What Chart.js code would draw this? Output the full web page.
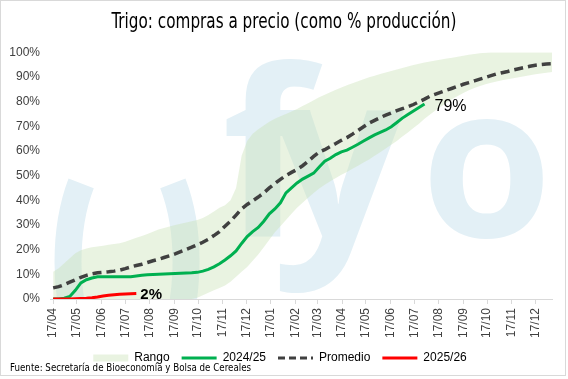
<!DOCTYPE html>
<html><head><meta charset="utf-8">
<script src="https://cdn.jsdelivr.net/npm/chart.js@4.4.1/dist/chart.umd.min.js"></script>
<style>html,body{margin:0;padding:0;background:#fff;overflow:hidden}#wrap{width:568px;height:379px;position:relative}</style>
</head><body><div id="wrap"><canvas id="c" width="568" height="379"></canvas></div>
<script>
const chartTitle = 'Trigo: compras a precio (como % producción)';
const sourceText = 'Fuente: Secretaría de Bioeconomía y Bolsa de Cereales';
const seriesNames = ['Rango', '2024/25', 'Promedio', '2025/26'];
const monthLabels = ['17/04','17/05','17/06','17/07','17/08','17/09','17/10','17/11','17/12','17/01','17/02','17/03','17/04','17/05','17/06','17/07','17/08','17/09','17/10','17/11','17/12'];
const monthDays = [0,30,61,91,122,153,183,214,244,275,306,334,365,395,426,456,487,518,548,579,609];
const daysPerWeek = 7;

// weekly values (% of production), week 0 = 17/04
const rangeLow = [0,0,0,0,0,0,0,0,0,0,0,0,0,0,0,0,0,0,0,0,0,0,0,0,0,0,
  0.5,1.5,2.5,3.5,4.5,5.5,7,9,11,13,15.5,18,21,24,27,29.5,32,34.5,37,39,41,43,44.8,46.3,47.7,49,50.3,51.5,52.8,54,55.3,56.5,58,59.5,61,62.5,64,65.8,67.5,69.3,71,73,74.8,76.5,78,79.5,81,82.3,83.5,84.6,85.5,86.3,87,87.6,88.1,88.6,89,89.4,89.9,90.3,90.7,91.1,91.4,91.7,92];
const rangeHigh = [11,12.5,14.5,16.5,18.5,19.8,20.5,21,21.3,21.6,22,22.3,22.6,23.2,24,24.8,25.5,26.3,27.2,28.2,28.8,29.4,30,30.5,31,31.5,32,32.8,34,35.5,37,38,40,45,58,64,67,68.8,70.3,71.8,73,74,75,76,77,78.2,79.3,80.5,81.7,82.8,83.8,84.8,85.7,86.6,87.4,88.2,89,89.8,90.5,91.2,91.8,92.4,93,93.6,94.2,94.8,95.3,95.8,96.2,96.6,97,97.4,97.8,98.2,98.6,99,99.3,99.6,99.8,100,100,100,100,100,100,100,100,100,100,100,100];
const promedio = [4.5,5,5.8,6.8,7.8,8.8,9.6,10.2,10.6,10.8,11,11.3,11.7,12.3,13,13.6,14.1,14.8,15.5,16.1,16.8,17.5,18.3,19.2,20.1,21,22,23,24.2,25.7,27.3,29.5,31.6,34,36.5,38.3,39.8,41.3,43,45,46.8,48.5,50,51.3,52.5,54,55.8,57.8,59.5,60.5,61.8,63,64.3,65.4,66.8,68.3,69.8,71.3,72.4,73.5,74.5,75.4,76.3,77.1,77.9,78.8,79.9,81,82.2,83,83.8,84.6,85.4,86.2,87,87.7,88.4,89.1,89.8,90.5,91.2,91.7,92.2,92.8,93.3,93.8,94.3,94.7,95,95.2,95.3];
const campaign2425 = [0,0,0.3,1,3.5,6.5,7.8,8.5,9,9,9,9,9,9,9,9.3,9.6,9.8,9.9,10,10.1,10.2,10.3,10.4,10.5,10.6,10.8,11.3,12,13,14.3,15.8,17.5,19.5,22.5,25.3,27.3,29,31.5,34.5,36.5,39,43,45,47,48.6,49.8,51,53.5,55.8,57,58.5,59.6,60.3,61.5,62.7,64,65.3,66.5,67.5,68.5,69.8,71.5,73.3,74.8,76.2,77.6,79];
const campaign2526 = [0,0,0,0,0.1,0.2,0.3,0.5,0.8,1.2,1.5,1.7,1.9,2,2.1,2.2];

const COND = '"DejaVu Sans Condensed", "Liberation Sans", sans-serif';
const SANS = '"Liberation Sans", Arial, sans-serif';
const BAND = 'rgba(200,225,180,0.4)';
const WM = '#e3f0f6';
const pts = arr => arr.map((v, i) => ({x: i * daysPerWeek, y: v}));

function condensedText(ctx, text, x, y, font, sx, align) {
  ctx.save();
  ctx.font = font;
  ctx.textBaseline = 'middle';
  ctx.textAlign = align;
  ctx.translate(x, y);
  ctx.scale(sx, 1);
  ctx.fillText(text, 0, 0);
  ctx.restore();
}

const watermark = {
  id: 'watermark',
  beforeDatasetsDraw(chart) {
    const {ctx, chartArea: a} = chart;
    ctx.save();
    ctx.beginPath(); ctx.rect(a.left, a.top, a.right - a.left, a.bottom - a.top); ctx.clip();
    ctx.strokeStyle = WM; ctx.lineWidth = 27;
    ctx.beginPath();
    ctx.ellipse(127, 262, 59, 125, 0, -39 * Math.PI / 180, 219 * Math.PI / 180);
    ctx.stroke();
    ctx.fillStyle = WM;
    ctx.textBaseline = 'alphabetic';
    ctx.font = 'bold 232px "Open Sans", "DejaVu Sans", sans-serif';
    ctx.fillText('f', 222, 237);
    ctx.fillText('y', 272, 237);
    ctx.font = 'bold 212px "Open Sans", "DejaVu Sans", sans-serif';
    ctx.fillText('o', 421, 237);
    ctx.restore();
  }
};

const extras = {
  id: 'extras',
  afterDatasetsDraw(chart) {
    const {ctx} = chart, xs = chart.scales.x, ys = chart.scales.y;
    ctx.save();
    ctx.fillStyle = '#000'; ctx.textBaseline = 'middle'; ctx.textAlign = 'left';
    const i1 = campaign2425.length - 1;
    ctx.font = '16px ' + SANS;
    ctx.fillText(Math.round(campaign2425[i1]) + '%', xs.getPixelForValue(i1 * daysPerWeek) + 10, ys.getPixelForValue(campaign2425[i1]) + 3);
    const i2 = campaign2526.length - 1;
    ctx.font = 'bold 15px ' + SANS;
    ctx.fillText(Math.round(campaign2526[i2]) + '%', xs.getPixelForValue(i2 * daysPerWeek) + 4, ys.getPixelForValue(campaign2526[i2]) + 1);
    ctx.restore();
  },
  afterDraw(chart) {
    const {ctx} = chart;
    ctx.save();
    ctx.fillStyle = '#000';
    condensedText(ctx, chartTitle, 284, 22, '22px ' + COND, 0.77, 'center');
    condensedText(ctx, sourceText, 10, 368, '11px ' + COND, 0.88, 'left');
    ctx.strokeStyle = '#d9d9d9'; ctx.lineWidth = 1;
    ctx.strokeRect(0.5, 0.5, 565, 375);
    ctx.restore();
  }
};

new Chart(document.getElementById('c'), {
  type: 'line',
  data: {
    datasets: [
      {label: 'low', data: pts(rangeLow), borderWidth: 0, pointRadius: 0, fill: false, order: 10},
      {label: seriesNames[0], data: pts(rangeHigh), borderWidth: 0, pointRadius: 0, fill: 0, backgroundColor: BAND, order: 9},
      {label: seriesNames[1], data: pts(campaign2425), borderColor: '#00b050', borderWidth: 3, pointRadius: 0, fill: false, order: 2},
      {label: seriesNames[2], data: pts(promedio), borderColor: '#404040', borderWidth: 3.5, borderDash: [9, 5], pointRadius: 0, fill: false, order: 3},
      {label: seriesNames[3], data: pts(campaign2526), borderColor: '#ff0000', borderWidth: 3, pointRadius: 0, fill: false, order: 1}
    ]
  },
  options: {
    responsive: false, animation: false, devicePixelRatio: 1,
    layout: {padding: {left: 8, right: 16, top: 0, bottom: 5}},
    scales: {
      x: {
        type: 'linear', min: -4, max: 630,
        afterBuildTicks: s => { s.ticks = monthDays.map(v => ({value: v})); },
        afterFit: s => { s.height = 41; },
        ticks: {autoSkip: false, minRotation: 90, maxRotation: 90, padding: 4, color: '#404040', font: {family: SANS, size: 12},
          callback: (v, i) => monthLabels[i]},
        grid: {display: true, drawOnChartArea: false, drawTicks: true, tickLength: 5, color: '#d9d9d9'},
        border: {color: '#d9d9d9'}
      },
      y: {
        min: 0, max: 100,
        afterFit: s => { s.width = 42; },
        ticks: {stepSize: 10, padding: 10, color: '#404040', font: {family: SANS, size: 12}, callback: v => v + '%'},
        grid: {display: false, drawTicks: false},
        border: {display: false}
      }
    },
    plugins: {
      title: {display: true, text: chartTitle, color: 'rgba(0,0,0,0)', font: {family: COND, size: 21, weight: 'normal'}, padding: {top: 10, bottom: 17}},
      legend: {
        position: 'bottom',
        labels: {
          usePointStyle: true, pointStyleWidth: 35, boxHeight: 7, padding: 12, color: '#404040',
          font: {family: SANS, size: 12},
          generateLabels: () => [
            {text: seriesNames[0], fillStyle: BAND, strokeStyle: BAND, lineWidth: 0, pointStyle: 'rect', hidden: false},
            {text: seriesNames[1], fillStyle: '#00b050', strokeStyle: '#00b050', lineWidth: 3, pointStyle: 'line', hidden: false},
            {text: seriesNames[2], fillStyle: '#404040', strokeStyle: '#404040', lineWidth: 3, lineDash: [7, 4], pointStyle: 'line', hidden: false},
            {text: seriesNames[3], fillStyle: '#ff0000', strokeStyle: '#ff0000', lineWidth: 3, pointStyle: 'line', hidden: false}
          ]
        }
      },
      tooltip: {enabled: false}
    }
  },
  plugins: [watermark, extras]
});
</script></body></html>
